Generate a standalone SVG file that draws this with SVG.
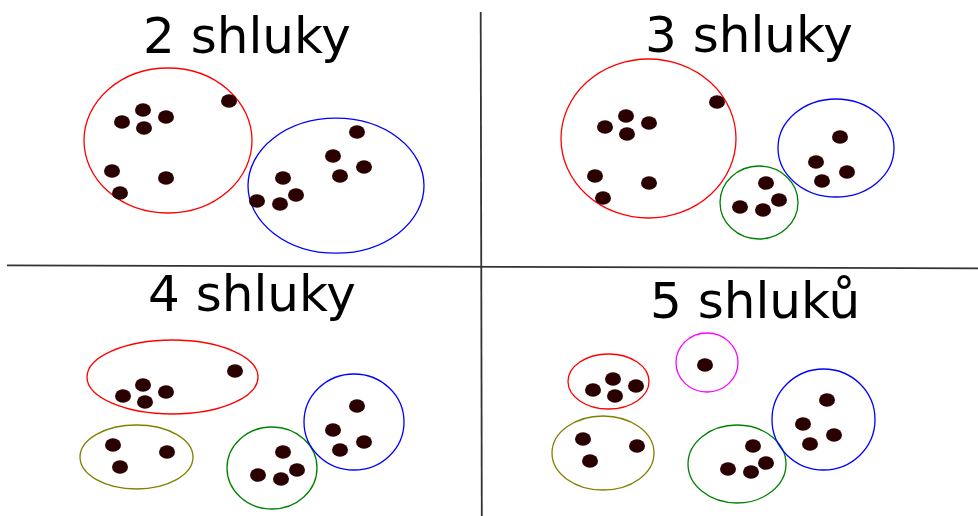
<svg xmlns="http://www.w3.org/2000/svg" width="978" height="516" viewBox="0 0 978 516">
  <style>
    .title { font-family: "DejaVu Sans", Verdana, sans-serif; font-size: 50px; fill: #000; }
    .ring { fill: none; stroke-width: 1.3; }
    .red { stroke: #ff0000; }
    .blue { stroke: #0000ff; }
    .green { stroke: #008000; }
    .olive { stroke: #808000; }
    .magenta { stroke: #ff00ff; }
    .pt { fill: #2b0000; }
    .divider { stroke: #333; stroke-width: 1.8; fill: none; }
  </style>
  <defs>
    <ellipse id="dot" rx="8" ry="6.8"/>
  </defs>
  <rect width="978" height="516" fill="#fff"/>

  <!-- panel dividers -->
  <g id="dividers">
    <line class="divider" x1="7" y1="265.3" x2="978" y2="268.4"/>
    <line class="divider" x1="480.7" y1="12" x2="481.8" y2="516"/>
  </g>

  <!-- panel: 2 clusters -->
  <g id="panel-2">
    <text class="title" x="143" y="53">2 shluky</text>
    <g id="p2-red">
      <ellipse class="ring red" cx="168" cy="140.5" rx="84" ry="72.5"/>
      <g class="pt">
        <use href="#dot" x="122" y="122"/>
        <use href="#dot" x="143" y="110"/>
        <use href="#dot" x="166" y="117"/>
        <use href="#dot" x="144" y="128"/>
        <use href="#dot" x="229" y="101"/>
        <use href="#dot" x="112" y="171"/>
        <use href="#dot" x="120" y="193"/>
        <use href="#dot" x="166" y="178"/>
      </g>
    </g>
    <g id="p2-blue">
      <ellipse class="ring blue" cx="336" cy="185.7" rx="88" ry="67.5"/>
      <g class="pt">
        <use href="#dot" x="357" y="132"/>
        <use href="#dot" x="333" y="156"/>
        <use href="#dot" x="364" y="167"/>
        <use href="#dot" x="340" y="176"/>
        <use href="#dot" x="283" y="178"/>
        <use href="#dot" x="296" y="195"/>
        <use href="#dot" x="257" y="201"/>
        <use href="#dot" x="280" y="204"/>
      </g>
    </g>
  </g>

  <!-- panel: 3 clusters -->
  <g id="panel-3">
    <text class="title" x="645" y="52">3 shluky</text>
    <g id="p3-red">
      <ellipse class="ring red" cx="648.5" cy="138.5" rx="87.5" ry="79.5"/>
      <g class="pt">
        <use href="#dot" x="605" y="127"/>
        <use href="#dot" x="626" y="116"/>
        <use href="#dot" x="649" y="123"/>
        <use href="#dot" x="627" y="134"/>
        <use href="#dot" x="717" y="102"/>
        <use href="#dot" x="595" y="176"/>
        <use href="#dot" x="603" y="198"/>
        <use href="#dot" x="649" y="183"/>
      </g>
    </g>
    <g id="p3-green">
      <ellipse class="ring green" cx="759" cy="202.5" rx="39" ry="36.5"/>
      <g class="pt">
        <use href="#dot" x="766" y="183"/>
        <use href="#dot" x="779" y="200"/>
        <use href="#dot" x="740" y="207"/>
        <use href="#dot" x="763" y="210"/>
      </g>
    </g>
    <g id="p3-blue">
      <ellipse class="ring blue" cx="836" cy="148" rx="58" ry="49"/>
      <g class="pt">
        <use href="#dot" x="840" y="137"/>
        <use href="#dot" x="816" y="162"/>
        <use href="#dot" x="847" y="172"/>
        <use href="#dot" x="822" y="181"/>
      </g>
    </g>
  </g>

  <!-- panel: 4 clusters -->
  <g id="panel-4">
    <text class="title" x="148" y="311">4 shluky</text>
    <g id="p4-red">
      <ellipse class="ring red" cx="172.5" cy="377" rx="85.5" ry="37"/>
      <g class="pt">
        <use href="#dot" x="235" y="371"/>
        <use href="#dot" x="143" y="385"/>
        <use href="#dot" x="123" y="396"/>
        <use href="#dot" x="166" y="392"/>
        <use href="#dot" x="145" y="402"/>
      </g>
    </g>
    <g id="p4-olive">
      <ellipse class="ring olive" cx="136.5" cy="457" rx="56.5" ry="32"/>
      <g class="pt">
        <use href="#dot" x="113" y="445"/>
        <use href="#dot" x="167" y="452"/>
        <use href="#dot" x="120" y="467"/>
      </g>
    </g>
    <g id="p4-green">
      <ellipse class="ring green" cx="272" cy="468" rx="45" ry="41"/>
      <g class="pt">
        <use href="#dot" x="283" y="452"/>
        <use href="#dot" x="297" y="470"/>
        <use href="#dot" x="258" y="475"/>
        <use href="#dot" x="281" y="479"/>
      </g>
    </g>
    <g id="p4-blue">
      <ellipse class="ring blue" cx="354" cy="422" rx="50" ry="48"/>
      <g class="pt">
        <use href="#dot" x="357" y="406"/>
        <use href="#dot" x="333" y="430"/>
        <use href="#dot" x="364" y="442"/>
        <use href="#dot" x="340" y="450"/>
      </g>
    </g>
  </g>

  <!-- panel: 5 clusters -->
  <g id="panel-5">
    <text class="title" x="650" y="318">5 shluků</text>
    <g id="p5-red">
      <ellipse class="ring red" cx="608.5" cy="381.5" rx="40.5" ry="27.5"/>
      <g class="pt">
        <use href="#dot" x="613" y="379"/>
        <use href="#dot" x="593" y="390"/>
        <use href="#dot" x="636" y="386"/>
        <use href="#dot" x="615" y="396"/>
      </g>
    </g>
    <g id="p5-magenta">
      <ellipse class="ring magenta" cx="707" cy="362.5" rx="31" ry="29.5"/>
      <g class="pt">
        <use href="#dot" x="705" y="365"/>
      </g>
    </g>
    <g id="p5-olive">
      <ellipse class="ring olive" cx="603" cy="453" rx="51" ry="37"/>
      <g class="pt">
        <use href="#dot" x="583" y="439"/>
        <use href="#dot" x="637" y="446"/>
        <use href="#dot" x="590" y="461"/>
      </g>
    </g>
    <g id="p5-green">
      <ellipse class="ring green" cx="737" cy="464" rx="49" ry="39"/>
      <g class="pt">
        <use href="#dot" x="753" y="446"/>
        <use href="#dot" x="766" y="463"/>
        <use href="#dot" x="728" y="469"/>
        <use href="#dot" x="751" y="472"/>
      </g>
    </g>
    <g id="p5-blue">
      <ellipse class="ring blue" cx="823.5" cy="419.5" rx="51.5" ry="50.5"/>
      <g class="pt">
        <use href="#dot" x="827" y="400"/>
        <use href="#dot" x="803" y="424"/>
        <use href="#dot" x="834" y="435"/>
        <use href="#dot" x="810" y="444"/>
      </g>
    </g>
  </g>
</svg>
